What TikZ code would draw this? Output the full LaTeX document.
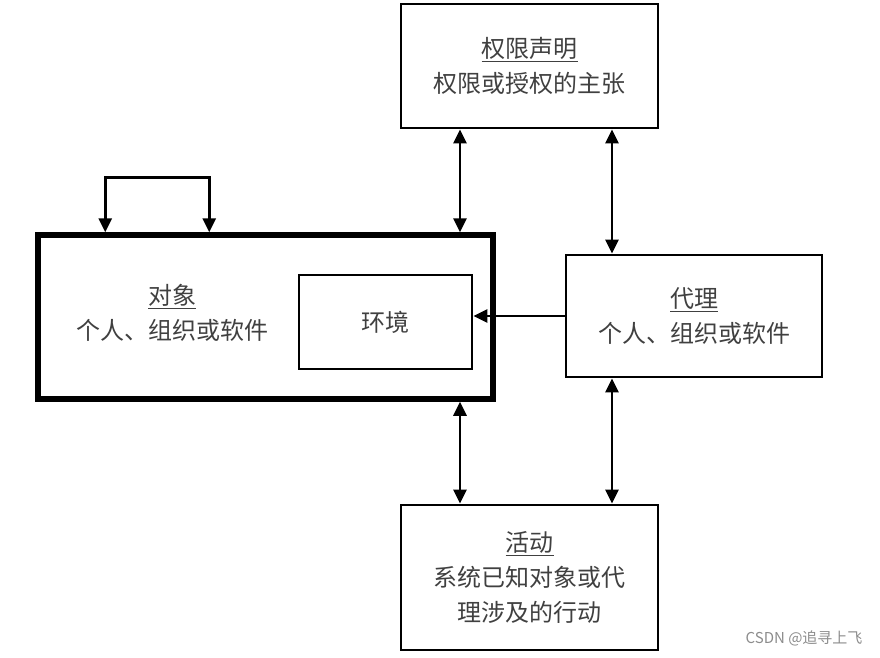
\documentclass[tikz,border=0pt]{standalone}
\usepackage{fontspec}
\setmainfont{Noto Sans CJK SC}
\usetikzlibrary{arrows.meta,positioning}

\begin{document}
\begin{tikzpicture}[x=1pt,y=-1pt,>={Triangle[width=13pt,length=14pt]},
	box/.style={draw,line width=2.8pt,inner sep=0pt,align=center,text=black!75,font=\fontsize{24}{35}\selectfont},
	txt/.style={align=center,text=black!75,font=\fontsize{24}{35}\selectfont},
	link/.style={<->,line width=2.8pt}]
	\useasboundingbox (0,0) rectangle (880,657);
	% boxes
	\node[box,minimum width=257,minimum height=124] (auth) at (529.5,66) {\underline{权限声明}\\权限或授权的主张};
	\node[box,line width=5.5pt,minimum width=455,minimum height=164] (obj) at (265.5,317) {};
	\node[txt] (objtxt) at (172,313) {\underline{对象}\\个人、组织或软件};
	\node[box,minimum width=173,minimum height=94] (env) at (385.5,322) {环境};
	\node[box,minimum width=256,minimum height=122] (agent) at (694,316) {\underline{代理}\\个人、组织或软件};
	\node[box,minimum width=257,minimum height=145] (act) at (529.5,577.5) {\underline{活动}\\系统已知对象或代\\理涉及的行动};
	\node[anchor=east,text=black!45,font=\fontsize{15}{15}\selectfont] (mark) at (866,638) {CSDN @追寻上飞};
	% columns for the vertical links
	\coordinate (left) at (460,0);
	\coordinate (right) at (612,0);
	\path[link]
		(auth.south -| left) edge (obj.north -| left)
		(auth.south -| right) edge (agent.north -| right)
		(obj.south -| left) edge (act.north -| left)
		(agent.south -| right) edge (act.north -| right);
	\draw[->,line width=2.5pt] (agent.west) -- (agent.west -| env.east);
	\draw[<->,line width=2.8pt] ([xshift=70pt]obj.north west) -- ++(0,-55) -| ([xshift=174pt]obj.north west);
\end{tikzpicture}
\end{document}
